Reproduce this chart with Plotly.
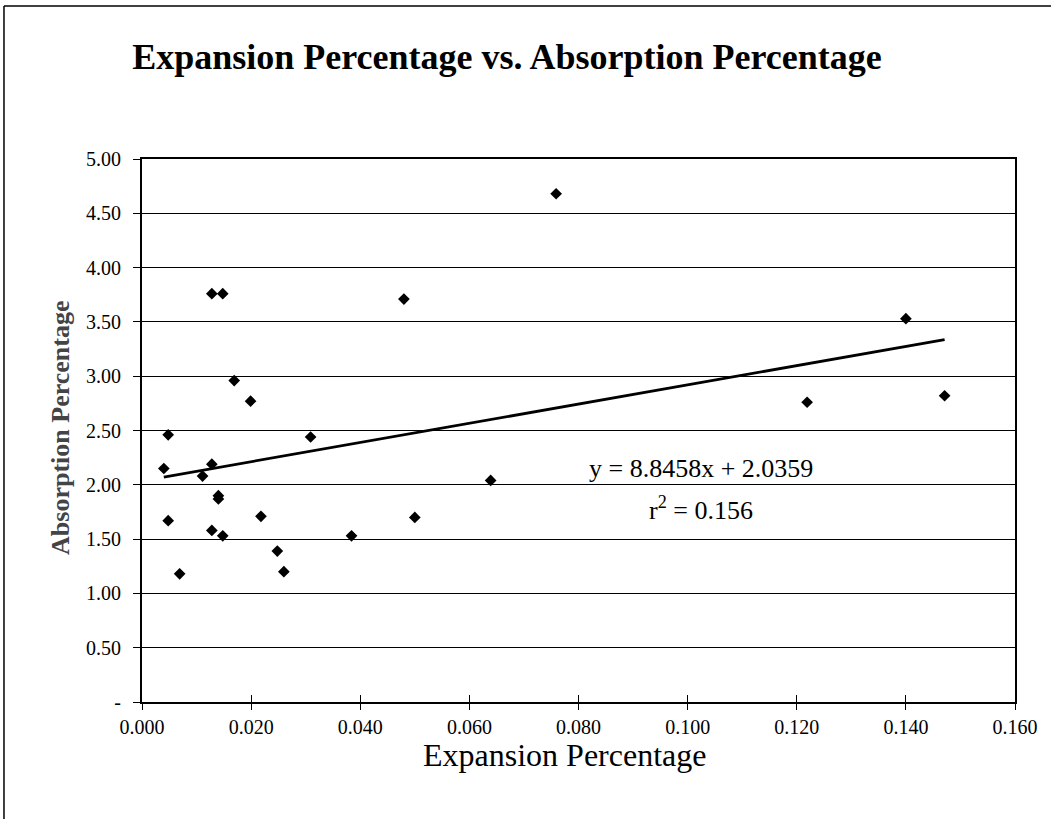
import plotly.graph_objects as go

# ---- data ----
expansion = [0.0040, 0.0048, 0.0048, 0.0069, 0.0111, 0.0128, 0.0128, 0.0128, 0.0140, 0.0140,
             0.0148, 0.0148, 0.0169, 0.0199, 0.0218, 0.0248, 0.0260, 0.0309, 0.0384, 0.0480,
             0.0500, 0.0639, 0.0759, 0.1219, 0.1400, 0.1471]
absorption = [2.15, 2.46, 1.67, 1.18, 2.08, 3.76, 2.19, 1.58, 1.90, 1.87,
              3.76, 1.53, 2.96, 2.77, 1.71, 1.39, 1.20, 2.44, 1.53, 3.71,
              1.70, 2.04, 4.68, 2.76, 3.53, 2.82]
slope = 8.8458
intercept = 2.0359
r_squared = 0.156

x_tickvals = [0.0, 0.02, 0.04, 0.06, 0.08, 0.10, 0.12, 0.14, 0.16]
x_ticktext = ["0.000", "0.020", "0.040", "0.060", "0.080", "0.100", "0.120", "0.140", "0.160"]
y_tickvals = [0, 0.5, 1.0, 1.5, 2.0, 2.5, 3.0, 3.5, 4.0, 4.5, 5.0]
y_ticktext = ["-", "0.50", "1.00", "1.50", "2.00", "2.50", "3.00", "3.50", "4.00", "4.50", "5.00"]

FONT = "Liberation Serif, Times New Roman, serif"

trend_x = [min(expansion), max(expansion)]
trend_y = [slope * v + intercept for v in trend_x]

fig = go.Figure()
fig.add_trace(go.Scatter(x=expansion, y=absorption, mode="markers",
                         marker=dict(symbol="diamond", size=9, color="black"),
                         showlegend=False))
fig.add_trace(go.Scatter(x=trend_x, y=trend_y, mode="lines",
                         line=dict(color="black", width=2.8), showlegend=False))
# transparent trace on an overlay axis, only to draw the inside half of the cross ticks
fig.add_trace(go.Scatter(x=trend_x, y=trend_y, mode="lines", xaxis="x2",
                         line=dict(color="rgba(0,0,0,0)", width=0), showlegend=False,
                         hoverinfo="skip"))

fig.update_layout(
    width=1051, height=819,
    margin=dict(l=142, r=36, t=159, b=117),
    paper_bgcolor="white", plot_bgcolor="white",
    font=dict(family=FONT, color="black"),
    title=dict(text="<b>Expansion Percentage vs. Absorption Percentage</b>",
               x=0.4824, y=0.931, xanchor="center", yanchor="middle",
               font=dict(size=36, family=FONT, color="black")),
    xaxis=dict(range=[0, 0.16], tickvals=x_tickvals, ticktext=x_ticktext,
               ticks="outside", ticklen=6, tickwidth=1, tickcolor="black",
               showline=True, linewidth=2, linecolor="black", mirror=True,
               showgrid=False, zeroline=False,
               tickfont=dict(size=20, family=FONT, color="black")),
    xaxis2=dict(range=[0, 0.16], overlaying="x", anchor="y", side="bottom",
                tickvals=x_tickvals, showticklabels=False,
                ticks="inside", ticklen=7, tickwidth=1, tickcolor="black",
                showline=False, showgrid=False, zeroline=False),
    yaxis=dict(range=[0, 5], tickvals=y_tickvals, ticktext=y_ticktext,
               ticks="outside", ticklen=7, tickwidth=1, tickcolor="black",
               showline=True, linewidth=2, linecolor="black", mirror=True,
               showgrid=True, gridcolor="black", gridwidth=1, zeroline=False,
               ticklabelstandoff=8,
               tickfont=dict(size=20, family=FONT, color="black")),
    annotations=[
        dict(text="Expansion Percentage", xref="paper", yref="paper",
             x=0.484, y=-0.097, xanchor="center", yanchor="middle", showarrow=False,
             font=dict(size=32, family=FONT, color="black")),
        dict(text="<b>Absorption Percentage</b>", xref="paper", yref="paper",
             x=-0.094, y=0.5046, xanchor="center", yanchor="middle", showarrow=False,
             textangle=-90, font=dict(size=26, family=FONT, color="#444444")),
        dict(text=f"y = {slope}x + {intercept}", xref="x", yref="y",
             x=0.1025, y=2.153, xanchor="center", yanchor="middle", showarrow=False,
             font=dict(size=26, family=FONT, color="black")),
        dict(text=f"r<sup>2</sup> = {r_squared}", xref="x", yref="y",
             x=0.1025, y=1.785, xanchor="center", yanchor="middle", showarrow=False,
             font=dict(size=26, family=FONT, color="black")),
    ],
    shapes=[
        dict(type="line", xref="paper", yref="paper", x0=-0.1581, x1=-0.1581,
             y0=1.2818, y1=-0.2155, line=dict(color="black", width=1.5)),
        dict(type="line", xref="paper", yref="paper", x0=-0.1581, x1=1.0412,
             y0=1.2818, y1=1.2818, line=dict(color="black", width=1.5)),
    ],
)

fig.write_html("out.html", config={"displayModeBar": False},
               post_script="document.body.style.margin='0';")
